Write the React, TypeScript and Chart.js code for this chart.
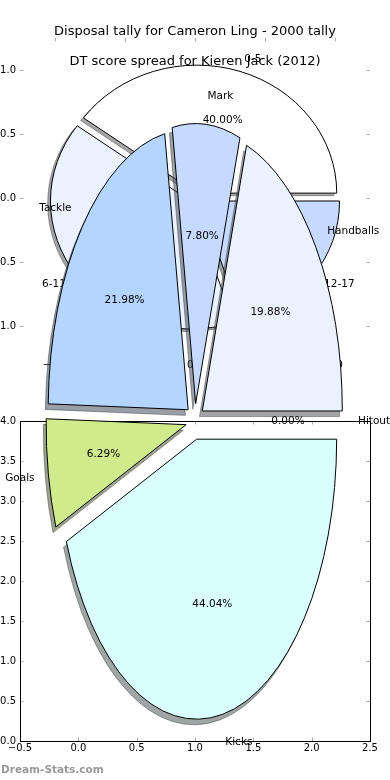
import React, { useEffect, useRef } from 'react';
import { Chart, registerables } from 'chart.js';

Chart.register(...registerables);

const FONT = '"DejaVu Sans", "Noto Sans", sans-serif';

const titleMain = 'Disposal tally for Cameron Ling - 2000 tally';
const titleSub = 'DT score spread for Kieren Jack (2012)';
const watermark = 'Dream-Stats.com';

// Cameron Ling disposal tally (pie, counter-clockwise from 3 o'clock)
const disposalLabels = ['Handballs', 'Mark', 'Tackle', 'Goals', 'Kicks', 'Hitout'];
const disposalValues = [19.88, 7.8, 21.98, 6.29, 44.04, 0.0];
const disposalColors = ['#eaf2ff', '#c6daff', '#b4d5ff', '#d0eb8b', '#d9ffff', '#ffffff'];

// Kieren Jack DT score spread
const dtLabels = ['0-5', '6-11', '12-17'];
const dtValues = [40.0, 40.0, 20.0];
const dtColors = ['#ffffff', '#eaf2ff', '#c6daff'];

// axes ticks
const topAxisTicks = [-1.0, -0.5, 0.0, 0.5, 1.0];
const bottomXTicks = [-0.5, 0.0, 0.5, 1.0, 1.5, 2.0, 2.5];
const bottomYTicks = [0.0, 0.5, 1.0, 1.5, 2.0, 2.5, 3.0, 3.5, 4.0];

const W = 390;
const H = 780;

const fmt = (v: number) => Number(v).toFixed(1).replace('-', '\u2212');

function shadowColor(hex: string) {
  const n = parseInt(hex.slice(1), 16);
  const r = Math.round(((n >> 16) & 255) * 0.3);
  const g = Math.round(((n >> 8) & 255) * 0.3);
  const b = Math.round((n & 255) * 0.3);
  return `rgba(${r},${g},${b},0.5)`;
}

function tickPlugin(xTicks: number[], yTicks: number[], frame: boolean) {
  return {
    id: 'inwardTicks',
    afterDraw(chart: any) {
      const ctx = chart.ctx;
      const { left, right, top, bottom } = chart.chartArea;
      const xs = chart.scales.x;
      const ys = chart.scales.y;
      const L = 3.5;
      ctx.save();
      ctx.strokeStyle = '#aaaaaa';
      ctx.lineWidth = 1;
      ctx.beginPath();
      xTicks.forEach((v) => {
        const p = Math.round(xs.getPixelForValue(v)) + 0.5;
        ctx.moveTo(p, bottom);
        ctx.lineTo(p, bottom - L);
        ctx.moveTo(p, top);
        ctx.lineTo(p, top + L);
      });
      yTicks.forEach((v) => {
        const p = Math.round(ys.getPixelForValue(v)) + 0.5;
        ctx.moveTo(left, p);
        ctx.lineTo(left + L, p);
        ctx.moveTo(right, p);
        ctx.lineTo(right - L, p);
      });
      ctx.stroke();
      if (frame) {
        ctx.strokeStyle = '#000000';
        ctx.strokeRect(left + 0.5, top + 0.5, right - left, bottom - top);
      }
      ctx.restore();
    },
  };
}

function axesConfig(
  xr: [number, number],
  yr: [number, number],
  xTicks: number[],
  yTicks: number[],
  padding: any,
  frame: boolean
): any {
  const tickFont = { family: FONT, size: 10 };
  return {
    type: 'scatter',
    data: { datasets: [{ data: [] }] },
    options: {
      animation: false,
      responsive: false,
      events: [],
      layout: { padding },
      plugins: { legend: { display: false }, tooltip: { enabled: false } },
      scales: {
        x: {
          type: 'linear',
          position: 'bottom',
          min: xr[0],
          max: xr[1],
          grid: { display: false, drawTicks: false },
          border: { display: false },
          afterBuildTicks: (s: any) => {
            s.ticks = xTicks.map((v) => ({ value: v }));
          },
          afterFit: (s: any) => {
            s.height = 20;
          },
          ticks: {
            autoSkip: false,
            maxRotation: 0,
            padding: 1,
            color: '#000',
            font: tickFont,
            callback: (v: number) => fmt(v),
          },
        },
        y: {
          type: 'linear',
          position: 'left',
          min: yr[0],
          max: yr[1],
          grid: { display: false, drawTicks: false },
          border: { display: false },
          afterBuildTicks: (s: any) => {
            s.ticks = yTicks.map((v) => ({ value: v }));
          },
          afterFit: (s: any) => {
            s.width = 20;
          },
          ticks: {
            autoSkip: false,
            padding: 4,
            color: '#000',
            font: tickFont,
            callback: (v: number) => fmt(v),
          },
        },
      },
    },
    plugins: [tickPlugin(xTicks, yTicks, frame)],
  };
}

// draws the library's pie through an elliptical (flipped, y-stretched) transform,
// exploding every wedge along its mid angle like matplotlib's `explode`
function ellipsePlugin(k: number, dx: number, dy: number, explode: number, withText: boolean) {
  return {
    id: 'ellipsePie',
    beforeDatasetsDraw(chart: any) {
      const ctx = chart.ctx;
      const meta = chart.getDatasetMeta(0);
      const el0 = meta.data[0];
      const base = ctx.getTransform();
      ctx.save();
      ctx.translate(el0.x + dx, el0.y + dy);
      ctx.scale(1, -k);
      ctx.translate(-el0.x, -el0.y);
      meta.data.forEach((el: any) => {
        if (el.__exploded) return;
        const orig = el.draw;
        el.draw = function (this: any, c: any, ...rest: any[]) {
          const mid = (this.startAngle + this.endAngle) / 2;
          c.save();
          c.translate(Math.cos(mid) * explode, Math.sin(mid) * explode);
          orig.call(this, c, ...rest);
          c.restore();
        };
        el.__exploded = true;
      });
      const proto = CanvasRenderingContext2D.prototype.stroke;
      ctx.stroke = function (this: any, ...args: any[]) {
        this.save();
        this.setTransform(base);
        proto.apply(this, args as any);
        this.restore();
      };
    },
    afterDatasetsDraw(chart: any) {
      const ctx = chart.ctx;
      delete ctx.stroke;
      ctx.restore();
      if (!withText) return;
      const meta = chart.getDatasetMeta(0);
      const ds = chart.data.datasets[0];
      const labels = chart.data.labels;
      const total = ds.data.reduce((a: number, b: number) => a + b, 0);
      ctx.save();
      ctx.fillStyle = '#000';
      ctx.font = `10.5px ${FONT}`;
      ctx.textBaseline = 'middle';
      meta.data.forEach((el: any, i: number) => {
        const mid = (el.startAngle + el.endAngle) / 2;
        const R = el.outerRadius;
        const c = Math.cos(mid);
        const s = Math.sin(mid);
        const rl = 1.1 * R + explode;
        ctx.textAlign = c >= 0 ? 'left' : 'right';
        ctx.fillText(labels[i], el.x + rl * c, el.y - k * rl * s);
        const rp = 0.6 * R + explode;
        ctx.textAlign = 'center';
        ctx.fillText(((ds.data[i] / total) * 100).toFixed(2) + '%', el.x + rp * c, el.y - k * rp * s);
      });
      ctx.restore();
    },
  };
}

function pieConfig(
  labels: string[],
  values: number[],
  colors: string[],
  opts: { shadow: boolean; k: number; explode: number; padding: any; titles: boolean }
): any {
  const R = 140;
  const fill = opts.shadow ? colors.map(shadowColor) : colors;
  const border = opts.shadow ? colors.map(shadowColor) : '#000000';
  const titleFont = { family: FONT, size: 13, weight: 'normal' as const };
  const tColor = opts.shadow ? 'rgba(0,0,0,0)' : '#000';
  return {
    type: 'pie',
    data: {
      labels,
      datasets: [
        {
          data: values,
          backgroundColor: fill,
          borderColor: border,
          borderWidth: 1,
          offset: 0,
          clip: false,
        },
      ],
    },
    options: {
      animation: false,
      responsive: false,
      events: [],
      rotation: 90,
      radius: R,
      layout: { padding: opts.padding },
      plugins: {
        legend: { display: false },
        tooltip: { enabled: false },
        title: {
          display: opts.titles,
          text: titleMain,
          color: tColor,
          font: titleFont,
          padding: { top: 23.7, bottom: 0 },
        },
        subtitle: {
          display: opts.titles,
          text: titleSub,
          color: tColor,
          font: titleFont,
          padding: { top: 14.4, bottom: 0 },
        },
      },
    },
    plugins: [
      ellipsePlugin(
        opts.k,
        opts.shadow ? -0.02 * R : 0,
        opts.shadow ? 0.02 * R * opts.k : 0,
        opts.explode,
        !opts.shadow
      ),
    ],
  };
}

export default function App() {
  const r0 = useRef<HTMLCanvasElement>(null);
  const r1 = useRef<HTMLCanvasElement>(null);
  const r2 = useRef<HTMLCanvasElement>(null);
  const r3 = useRef<HTMLCanvasElement>(null);
  const r4 = useRef<HTMLCanvasElement>(null);
  const r5 = useRef<HTMLCanvasElement>(null);
  const refs = [r0, r1, r2, r3, r4, r5];

  useEffect(() => {
    document.body.style.margin = '0';
    const dtK = 128 / 140;
    const camK = 2.0;
    const dtPad = { left: 0, right: 0, top: 0, bottom: 384 };
    const camPad = { left: 0, right: 0, top: 0, bottom: 6.3 };
    const charts = [
      new Chart(
        r0.current as any,
        axesConfig([-1.25, 1.25], [-1.25, 1.25], topAxisTicks, topAxisTicks, { left: 0, right: 20, top: 38, bottom: 402 }, false)
      ),
      new Chart(
        r1.current as any,
        axesConfig([-0.5, 2.5], [0, 4], bottomXTicks, bottomYTicks, { left: 0, right: 20, top: 421, bottom: 19 }, true)
      ),
      new Chart(r2.current as any, pieConfig(dtLabels, dtValues, dtColors, { shadow: true, k: dtK, explode: 5.6, padding: dtPad, titles: false })),
      new Chart(r3.current as any, pieConfig(dtLabels, dtValues, dtColors, { shadow: false, k: dtK, explode: 5.6, padding: dtPad, titles: false })),
      new Chart(r4.current as any, pieConfig(disposalLabels, disposalValues, disposalColors, { shadow: true, k: camK, explode: 9, padding: camPad, titles: true })),
      new Chart(r5.current as any, pieConfig(disposalLabels, disposalValues, disposalColors, { shadow: false, k: camK, explode: 9, padding: camPad, titles: true })),
    ];
    return () => charts.forEach((c) => c.destroy());
  }, []);

  return (
    <div style={{ position: 'relative', width: W, height: H, background: '#ffffff', overflow: 'hidden' }}>
      {refs.map((r, i) => (
        <canvas key={i} ref={r} width={W} height={H} style={{ position: 'absolute', left: 0, top: 0 }} />
      ))}
      <div
        style={{
          position: 'absolute',
          left: 1,
          top: 763,
          font: `bold 10.5px ${FONT}`,
          lineHeight: '12px',
          color: '#999999',
          whiteSpace: 'nowrap',
        }}
      >
        {watermark}
      </div>
    </div>
  );
}
